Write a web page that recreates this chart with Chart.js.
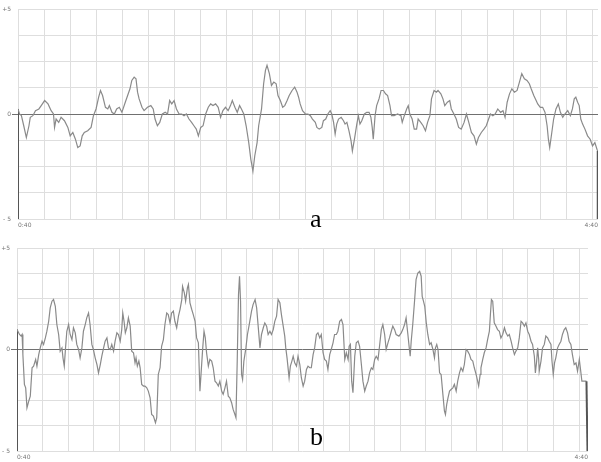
<!DOCTYPE html>
<html><head><meta charset="utf-8">
<script src="https://cdn.jsdelivr.net/npm/chart.js@4/dist/chart.umd.min.js"></script>
<style>
body{margin:0;background:#fff;width:601px;height:462px;overflow:hidden;position:relative}
.w{position:absolute;left:0;width:601px}
.lbl{position:absolute;font-family:"Liberation Serif",serif;font-size:26px;color:#000;line-height:1}
</style></head><body>
<div class="w" style="top:0;height:232px"><canvas id="ca"></canvas></div>
<div class="w" style="top:236px;height:226px"><canvas id="cb"></canvas></div>
<div class="lbl" style="left:310px;top:206px">a</div>
<div class="lbl" style="left:310px;top:424px">b</div>
<script>
// x in grid divisions (22+ divisions spanning 0:40 .. 4:40), y in signal units (-5 .. +5)
const xLabels = ['0:40', '4:40'];
const yLabels = {'5': '+5', '0': '0', '-5': '- 5'};
const aXMax = 22.22;
const bXMax = 22.35;

const aTime = [
0,0,0.06,0.13,0.22,0.32,0.42,0.47,0.57,0.67,
0.80,0.89,1.02,1.15,1.27,1.36,1.40,1.46,1.56,1.65,
1.78,1.91,2.00,2.10,2.20,2.29,2.38,2.46,2.54,2.67,
2.80,2.89,2.99,3.09,3.16,3.24,3.35,3.44,3.50,3.60,
3.69,3.78,3.88,3.98,4.11,4.20,4.29,4.36,4.45,4.52,
4.58,4.64,4.75,4.83,4.96,5.09,5.18,5.25,5.34,5.43,
5.53,5.64,5.73,5.81,5.89,5.98,6.07,6.17,6.27,6.36,
6.45,6.55,6.65,6.74,6.83,6.91,7.00,7.09,7.19,7.29,
7.38,7.47,7.57,7.67,7.76,7.85,7.95,8.05,8.14,8.21,
8.31,8.40,8.49,8.56,8.65,8.74,8.84,8.92,9.00,9.07,
9.16,9.22,9.33,9.41,9.48,9.54,9.63,9.71,9.80,9.89,
9.96,10.05,10.14,10.22,10.31,10.39,10.50,10.60,10.69,10.75,
10.81,10.90,11.01,11.11,11.20,11.28,11.39,11.45,11.54,11.64,
11.70,11.79,11.87,11.96,12.02,12.09,12.15,12.21,12.28,12.38,
12.47,12.53,12.60,12.68,12.76,12.81,12.89,12.98,13.04,13.10,
13.17,13.27,13.36,13.45,13.52,13.57,13.61,13.68,13.74,13.83,
13.91,14.00,14.08,14.16,14.25,14.31,14.41,14.54,14.67,14.72,
14.80,14.89,14.95,15.01,15.10,15.18,15.27,15.33,15.43,15.52,
15.61,15.69,15.78,15.84,15.94,16.03,16.09,16.20,16.28,16.35,
16.45,16.54,16.60,16.70,16.79,16.88,16.98,17.09,17.18,17.27,
17.37,17.47,17.56,17.64,17.75,17.85,17.94,18.03,18.10,18.19,
18.28,18.38,18.49,18.58,18.66,18.74,18.83,18.92,19.02,19.12,
19.21,19.30,19.40,19.50,19.59,19.66,19.76,19.85,19.91,20.01,
20.10,20.19,20.27,20.32,20.37,20.45,20.52,20.61,20.70,20.78,
20.87,20.95,21.06,21.16,21.24,21.31,21.37,21.44,21.50,21.56,
21.63,21.72,21.82,21.92,22.01,22.10,22.18,22.21,22.21
];
const aValue = [
-5,0.24,0,-0.08,-0.56,-1.12,-0.56,-0.16,-0.08,0.16,
0.24,0.40,0.64,0.48,0.16,0,-0.64,-0.24,-0.40,-0.16,
-0.32,-0.64,-1.04,-0.88,-1.20,-1.60,-1.52,-1.04,-0.88,-0.80,
-0.64,-0.08,0.24,0.80,1.12,0.88,0.32,0.24,0.40,0.08,
0,0.24,0.32,0.08,0.56,0.88,1.20,1.60,1.76,1.68,
1.04,0.72,0.32,0.16,0.32,0.40,0.24,-0.24,-0.56,-0.40,
0,0.08,0,0.64,0.48,0.64,0.24,0,0,-0.08,
0,-0.24,-0.40,-0.56,-0.72,-1.04,-0.64,-0.56,0,0.32,
0.48,0.40,0.48,0.32,-0.16,0.16,0.32,0.16,0.40,0.64,
0.32,0.08,0.40,0.24,0,-0.56,-1.36,-2.16,-2.72,-2.00,
-1.36,-0.56,0.24,1.44,2.08,2.32,1.92,1.36,1.52,1.44,
0.88,0.64,0.32,0.40,0.64,0.88,1.12,1.28,1.04,0.80,
0.48,0.16,0,0,-0.08,-0.24,-0.40,-0.64,-0.72,-0.64,
-0.32,-0.24,0,0.16,0,-0.40,-0.96,-0.48,-0.24,-0.16,
-0.32,-0.48,-0.40,-0.80,-1.28,-1.76,-1.20,-0.48,-0.08,-0.48,
-0.32,0,0.08,0.08,-0.16,-0.64,-1.20,-0.08,0.40,0.72,
1.12,1.12,0.96,0.88,0.40,-0.08,-0.08,0,-0.08,-0.40,
-0.08,0.24,0.40,0,-0.24,-0.72,-0.72,-0.24,-0.40,-0.56,
-0.80,-0.40,-0.08,0.72,1.12,1.04,1.12,0.96,0.72,0.40,
0.56,0.64,0.24,0,-0.24,-0.64,-0.72,-0.40,0,-0.40,
-0.88,-1.04,-1.44,-1.12,-0.88,-0.72,-0.56,-0.24,0,-0.08,
0,0.24,0.08,0.16,-0.16,0.56,0.96,1.20,1.04,1.12,
1.52,1.92,1.68,1.60,1.44,1.20,0.88,0.64,0.48,0.32,
0.32,0.08,-0.56,-1.20,-1.60,-0.88,-0.24,0.24,0.48,0.08,
-0.16,0,0.16,-0.08,0.24,0.72,0.80,0.56,0.40,-0.24,
-0.48,-0.72,-1.04,-1.20,-1.52,-1.36,-1.68,-1.76,-5
];

const bTime = [
0,0,0.10,0.16,0.20,0.23,0.29,0.34,0.39,0.46,
0.52,0.59,0.65,0.73,0.78,0.85,0.91,0.98,1.04,1.11,
1.17,1.24,1.30,1.37,1.43,1.50,1.56,1.63,1.69,1.76,
1.80,1.85,1.90,1.95,2.02,2.08,2.15,2.21,2.28,2.34,
2.41,2.47,2.54,2.60,2.67,2.73,2.80,2.86,2.93,2.99,
3.06,3.13,3.19,3.26,3.32,3.39,3.45,3.52,3.58,3.65,
3.71,3.78,3.84,3.91,3.97,4.04,4.10,4.14,4.19,4.24,
4.30,4.36,4.43,4.49,4.56,4.62,4.66,4.71,4.77,4.82,
4.88,4.95,5.01,5.08,5.14,5.21,5.27,5.34,5.42,5.47,
5.53,5.60,5.66,5.73,5.79,5.86,5.92,5.99,6.05,6.12,
6.18,6.25,6.32,6.38,6.45,6.48,6.55,6.60,6.67,6.71,
6.77,6.84,6.90,6.97,7.03,7.10,7.16,7.27,7.32,7.37,
7.42,7.49,7.55,7.62,7.68,7.75,7.81,7.88,7.94,8.01,
8.07,8.14,8.20,8.27,8.33,8.40,8.46,8.53,8.57,8.62,
8.67,8.71,8.75,8.79,8.83,8.88,8.96,9.02,9.09,9.18,
9.24,9.32,9.38,9.44,9.51,9.57,9.64,9.70,9.77,9.83,
9.90,9.96,10.03,10.09,10.16,10.22,10.29,10.35,10.42,10.48,
10.52,10.57,10.65,10.70,10.76,10.81,10.87,10.94,11.00,11.07,
11.13,11.20,11.26,11.33,11.39,11.46,11.52,11.59,11.65,11.72,
11.78,11.85,11.91,11.98,12.04,12.11,12.17,12.24,12.30,12.37,
12.43,12.50,12.56,12.63,12.70,12.76,12.83,12.89,12.96,13.00,
13.05,13.10,13.15,13.22,13.28,13.35,13.41,13.48,13.54,13.61,
13.67,13.74,13.80,13.87,13.93,14.00,14.06,14.13,14.19,14.26,
14.32,14.39,14.45,14.52,14.58,14.65,14.71,14.78,14.84,14.95,
15.04,15.10,15.17,15.23,15.30,15.36,15.39,15.43,15.49,15.56,
15.62,15.69,15.76,15.82,15.86,15.91,15.96,16.02,16.08,16.15,
16.21,16.28,16.34,16.38,16.43,16.48,16.54,16.60,16.67,16.73,
16.77,16.82,16.87,16.93,16.99,17.06,17.12,17.19,17.25,17.32,
17.38,17.45,17.51,17.58,17.64,17.71,17.77,17.84,17.90,17.97,
18.03,18.07,18.13,18.16,18.23,18.29,18.36,18.42,18.49,18.53,
18.57,18.62,18.68,18.75,18.81,18.88,18.94,19.01,19.08,19.14,
19.21,19.27,19.34,19.40,19.47,19.53,19.60,19.66,19.73,19.79,
19.86,19.92,19.99,20.05,20.12,20.18,20.25,20.29,20.34,20.38,
20.42,20.44,20.51,20.57,20.64,20.70,20.77,20.83,20.90,20.94,
20.99,21.04,21.09,21.16,21.22,21.29,21.35,21.42,21.48,21.55,
21.61,21.68,21.74,21.81,21.88,21.94,22.01,22.05,22.11,22.20,
22.29,22.33
];
const bValue = [
-5,0.98,0.74,0.66,0.74,-0.25,-1.72,-1.89,-2.87,-2.54,
-2.30,-0.90,-0.82,-0.49,-0.82,-0.25,0.08,0.41,0.25,0.57,
0.90,1.39,2.05,2.38,2.46,2.13,1.23,0.74,-0.08,0.08,
-0.41,-0.82,0.08,0.90,1.23,0.74,0.49,1.07,0.82,0.25,
0,-0.41,0.08,0.90,1.23,1.56,1.80,1.23,0.25,0,
-0.41,-0.74,-1.15,-0.74,-0.33,0.08,0.41,0.57,0.08,0,
0.25,-0.08,0.41,0.82,0.74,0.41,0.98,1.80,1.39,0.82,
1.07,1.56,1.15,-0.08,-0.16,-0.66,-0.41,-0.82,-0.57,-0.90,
-1.72,-1.80,-1.80,-1.89,-2.05,-2.38,-3.20,-3.28,-3.61,-3.36,
-1.23,-0.90,0.16,0.49,1.23,1.80,1.72,1.31,1.80,1.89,
1.39,1.07,1.64,1.97,2.46,3.11,2.79,2.38,3.03,3.20,
2.30,1.97,1.72,1.39,0.57,0.33,-2.05,0.08,0.90,0.57,
-0.16,-0.82,-0.49,-0.57,-0.90,-1.56,-1.64,-1.80,-1.56,-2.05,
-2.21,-1.89,-1.56,-2.30,-2.38,-2.62,-2.95,-3.20,-3.36,-0.57,
2.70,3.61,2.38,-1.23,-1.48,-0.57,0.08,0.74,1.23,1.89,
2.21,2.46,2.05,1.15,0.08,0.74,1.07,1.31,1.15,0.74,
0.90,0.74,0.98,1.39,1.64,2.46,2.30,1.72,1.15,0.66,
0.08,-0.41,-1.39,-0.82,-0.57,-0.33,-0.66,-0.82,-0.33,-0.74,
-1.39,-1.80,-1.56,-0.98,-0.82,-0.90,-0.90,-0.25,0.08,0.74,
0.82,0.57,0.74,-0.16,-0.49,-0.57,-0.98,-0.25,0,0.33,
0.74,0.74,0.90,1.39,1.48,1.23,-0.49,-0.16,-0.49,0.16,
0.25,-1.56,-2.13,-0.33,0.33,0.41,0.16,-0.74,-1.56,-2.05,
-1.80,-1.56,-1.15,-0.90,-0.98,-0.49,-0.33,-0.49,0.16,0.98,
1.23,0.74,0,0.33,0.57,0.90,1.15,0.98,0.74,0.66,
0.82,0.98,1.23,1.56,0.74,0,-0.33,0.41,1.23,2.38,
3.44,3.77,3.85,3.61,2.62,2.38,2.13,1.31,0.74,0.25,
0.33,0,-0.41,0.08,0.25,0,-1.15,-1.23,-2.21,-3.03,
-3.20,-2.70,-2.38,-2.05,-1.97,-1.89,-1.72,-2.05,-1.56,-1.15,
-0.90,-1.07,-0.74,0,-0.08,-0.25,-0.49,-0.57,-0.90,-1.23,
-1.56,-1.80,-1.23,-0.90,-0.49,-0.16,0.08,0.49,0.90,1.72,
2.46,2.38,1.31,1.15,0.98,0.90,0.57,0.74,1.07,0.82,
0.66,0.74,0.41,0.08,-0.25,-0.08,0.08,0.57,1.39,1.31,
1.15,1.31,0.90,0.74,0.41,0.25,-0.33,-1.15,-0.57,0.08,
-0.49,-1.07,-0.57,0.08,0.25,0.66,0.57,0.41,0.25,-0.57,
-1.23,-0.66,-0.41,0.08,0.25,0.41,0.74,0.98,1.07,0.82,
0.41,0.25,-0.25,-0.74,-0.66,-1.07,-0.49,-0.90,-1.56,-1.56,
-1.56,-5
];

const GRID = '#dedede', ZERO = '#707070', TRACE = '#8a8a8a', EDGE = '#555';

function build(id, times, values, xMax, yW, xH, padTop, padRight) {
  const n = Math.min(times.length, values.length);
  const pts = [];
  for (let i = 0; i < n; i++) pts.push({x: times[i], y: values[i]});
  const last = n - 1;
  const isEdge = c => c.p0DataIndex === 0 || c.p1DataIndex === last;
  return new Chart(document.getElementById(id), {
    type: 'line',
    data: {datasets: [{
      data: pts, borderColor: TRACE, borderWidth: 1.2, pointRadius: 0, tension: 0, fill: false,
      segment: {
        borderColor: c => isEdge(c) ? EDGE : undefined,
        borderWidth: c => isEdge(c) ? 2 : undefined
      }
    }]},
    options: {
      responsive: true, maintainAspectRatio: false, animation: false,
      layout: {padding: {top: padTop, right: padRight, left: 0, bottom: 0}},
      plugins: {legend: {display: false}, tooltip: {enabled: false}},
      scales: {
        x: {
          type: 'linear', min: 0, max: xMax,
          afterBuildTicks: s => {
            const t = [];
            for (let i = 0; i <= Math.floor(xMax); i++) t.push({value: i});
            t.push({value: xMax});
            s.ticks = t;
          },
          afterFit: s => { s.height = xH; },
          grid: {color: c => (c.tick && c.tick.value === xMax) ? 'rgba(0,0,0,0)' : GRID, drawTicks: false},
          border: {display: false},
          ticks: {
            autoSkip: false, maxRotation: 0, align: 'inner', padding: 3,
            font: {size: 6, family: 'DejaVu Sans'}, color: '#777',
            callback: (v, i, arr) => i === 0 ? xLabels[0] : (i === arr.length - 1 ? xLabels[1] : '')
          }
        },
        y: {
          min: -5, max: 5,
          afterFit: s => { s.width = yW; },
          grid: {
            color: c => (c.tick && c.tick.value === 0) ? ZERO : GRID,
            tickColor: c => (c.tick && c.tick.value === 0) ? ZERO : 'rgba(0,0,0,0)',
            tickLength: 6, drawTicks: true
          },
          border: {display: false},
          ticks: {
            stepSize: 1.25, padding: 1,
            font: {size: 6, family: 'DejaVu Sans'}, color: '#777',
            callback: v => (yLabels[String(v)] !== undefined ? yLabels[String(v)] : '')
          }
        }
      }
    }
  });
}

build('ca', aTime, aValue, aXMax, 18, 13, 9, 1);
build('cb', bTime, bValue, bXMax, 17, 11, 12, 13);
</script>
</body></html>
